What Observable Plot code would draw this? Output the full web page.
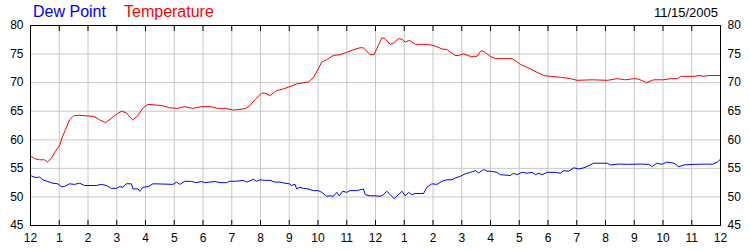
<!DOCTYPE html>
<html>
<head>
<meta charset="utf-8">
<script src="https://cdn.jsdelivr.net/npm/d3@7"></script>
<script src="https://cdn.jsdelivr.net/npm/@observablehq/plot@0.6"></script>
<style>
  html, body { margin: 0; padding: 0; background: #fff; }
  #wrap { position: relative; width: 750px; height: 250px; font-family: "Liberation Sans", Arial, sans-serif; }
  #wrap svg { position: absolute; left: 0; top: 0; }
  .lab { position: absolute; line-height: 1; white-space: nowrap; }
</style>
</head>
<body>
<div id="wrap"></div>
<script>
// Hours after midnight and readings (°F)
const tempHours = [0.00,0.14,0.31,0.49,0.59,0.73,0.87,1.01,1.11,1.22,1.36,1.50,1.71,1.92,2.20,2.40,2.61,2.82,3.03,3.17,3.34,3.45,3.55,3.73,3.90,4.08,4.32,4.56,4.84,5.12,5.37,5.64,5.96,6.24,6.52,6.79,7.04,7.28,7.49,7.63,7.84,8.04,8.15,8.33,8.56,8.79,9.02,9.26,9.66,9.84,10.01,10.13,10.30,10.53,10.77,11.00,11.23,11.46,11.58,11.81,11.95,12.22,12.33,12.51,12.62,12.80,12.92,13.03,13.18,13.38,13.84,14.08,14.31,14.48,14.77,14.89,15.06,15.30,15.53,15.67,15.82,15.99,16.17,16.75,17.04,17.39,17.62,17.85,18.08,18.43,18.78,19.01,19.54,20.06,20.41,20.70,20.99,21.16,21.43,21.68,22.03,22.26,22.50,22.61,23.08,23.25,23.43,23.60,24.00];
const tempValues = [57.2,56.7,56.5,56.5,56.1,56.8,58.0,59.0,60.5,61.8,63.5,64.2,64.3,64.2,64.1,63.5,63.0,63.8,64.6,65.0,64.7,64.0,63.5,64.2,65.5,66.2,66.1,66.0,65.6,65.5,65.8,65.5,65.8,65.8,65.5,65.5,65.2,65.3,65.5,66.0,67.2,68.15,68.15,67.75,68.6,68.9,69.3,69.8,70.1,70.85,72.4,73.6,74.0,74.75,74.9,75.3,75.75,76.1,76.1,74.9,74.9,77.85,77.7,76.7,76.9,77.7,77.6,77.1,77.4,76.7,76.7,76.4,75.9,75.8,74.75,74.75,75.05,74.6,74.6,75.6,75.3,74.6,74.2,74.2,73.2,72.4,71.8,71.25,71.1,70.95,70.7,70.4,70.5,70.4,70.7,70.5,70.7,70.6,70.0,70.5,70.5,70.7,70.7,71.1,71.1,71.25,71.1,71.25,71.25];

const dewHours = [0.00,0.14,0.25,0.31,0.43,0.60,0.78,0.95,1.07,1.18,1.36,1.53,1.71,1.88,2.29,2.46,2.64,2.81,2.99,3.10,3.22,3.33,3.51,3.56,3.74,3.80,3.91,4.09,4.26,4.96,5.08,5.19,5.37,5.60,5.77,5.95,6.06,6.24,6.41,6.59,6.82,6.93,7.17,7.40,7.52,7.63,7.75,7.86,7.98,8.15,8.33,8.50,8.68,8.85,9.00,9.08,9.20,9.26,9.37,9.49,9.66,9.84,10.01,10.13,10.30,10.42,10.53,10.65,10.74,10.86,11.00,11.11,11.35,11.58,11.64,11.81,11.99,12.16,12.28,12.39,12.51,12.65,12.80,12.92,13.03,13.15,13.26,13.38,13.67,13.79,13.96,14.14,14.31,14.48,14.66,14.77,14.95,15.12,15.30,15.47,15.59,15.76,15.88,15.99,16.23,16.34,16.69,16.80,16.92,17.10,17.27,17.45,17.56,17.68,17.79,17.97,18.26,18.43,18.55,18.72,18.90,19.07,19.25,19.42,19.59,20.06,20.17,20.46,20.76,21.22,21.51,21.63,21.78,21.97,22.13,22.38,22.55,22.73,23.08,23.54,23.71,23.89,24.00];
const dewValues = [53.75,53.45,53.4,53.5,53.0,52.7,52.4,52.3,51.8,51.8,52.3,52.2,52.4,52.0,52.0,52.2,52.0,51.5,51.5,51.8,51.7,52.3,52.3,51.4,51.4,51.0,51.7,51.8,52.3,52.2,52.6,52.2,52.75,52.7,52.5,52.7,52.5,52.6,52.7,52.5,52.5,52.75,52.75,52.9,52.6,52.8,53.1,52.75,53.0,52.9,52.9,52.6,52.6,52.4,52.3,52.0,52.2,51.4,51.7,51.5,51.4,51.1,51.1,50.8,50.1,50.2,50.1,50.8,50.2,51.0,50.8,51.1,51.1,51.4,50.4,50.2,50.2,50.1,50.4,51.0,50.4,49.7,50.4,51.0,50.2,50.8,50.4,50.6,50.6,51.7,52.3,52.2,52.75,53.0,53.0,53.3,53.6,54.05,54.3,54.6,54.2,54.8,54.5,54.5,54.3,53.9,53.75,54.15,53.9,54.3,54.15,54.3,53.9,54.15,53.9,54.3,54.3,54.15,54.6,54.5,55.1,54.9,55.1,55.5,55.9,55.9,55.6,55.75,55.7,55.75,55.7,55.3,55.9,55.7,56.1,55.9,55.3,55.6,55.7,55.75,55.7,56.1,56.6];

const hourTicks = d3.range(0, 25);
const hourLabels = ["12","1","2","3","4","5","6","7","8","9","10","11","12","1","2","3","4","5","6","7","8","9","10","11","12"];
const yTicks = [45,50,55,60,65,70,75,80];
const gridYTicks = [50,55,60,65,70,75];
const seriesNames = ["Dew Point", "Temperature"];
const dateLabel = "11/15/2005";

const temp = tempHours.map((h, i) => ({h, v: tempValues[i]}));
const dew = dewHours.map((h, i) => ({h, v: dewValues[i]}));
const fmt = (d) => hourLabels[d];

const chart = Plot.plot({
  width: 750,
  height: 250,
  marginLeft: 30,
  marginRight: 30,
  marginTop: 25,
  marginBottom: 25,
  style: {fontFamily: "'Liberation Sans', Arial, sans-serif", fontSize: "12px", color: "#000", background: "transparent", overflow: "visible"},
  x: {domain: [0, 24]},
  y: {domain: [45, 80]},
  marks: [
    Plot.gridX(hourTicks.slice(1, -1), {stroke: "#c8c8c8", strokeOpacity: 1}),
    Plot.gridY(gridYTicks, {stroke: "#c8c8c8", strokeOpacity: 1}),
    Plot.line(dew, {x: "h", y: "v", stroke: "#0000ff", strokeWidth: 1}),
    Plot.line(temp, {x: "h", y: "v", stroke: "#ff0000", strokeWidth: 1}),
    Plot.frame({stroke: "#000", strokeOpacity: 1}),
    Plot.axisX(hourTicks, {anchor: "top", tickSize: -5, tickFormat: () => "", label: null, stroke: "#000"}),
    Plot.axisX(hourTicks, {anchor: "bottom", tickSize: -5, tickFormat: () => "", label: null, stroke: "#000"}),
    Plot.axisX(hourTicks, {anchor: "bottom", tickSize: 0, tickPadding: 8, tickFormat: fmt, label: null, fill: "#000"}),
    Plot.axisY(yTicks, {anchor: "left", tickSize: 0, tickPadding: 7, label: null, fill: "#000"}),
    Plot.axisY(yTicks, {anchor: "right", tickSize: 0, tickPadding: 7, label: null, fill: "#000"})
  ]
});

const wrap = document.getElementById("wrap");
wrap.appendChild(chart);

function addLabel(text, css) {
  const s = document.createElement("span");
  s.className = "lab";
  s.textContent = text;
  Object.assign(s.style, css);
  wrap.appendChild(s);
}
addLabel(seriesNames[0], {left: "33px", top: "4px", fontSize: "16px", color: "#0000ff"});
addLabel(seriesNames[1], {left: "124px", top: "4px", fontSize: "16px", color: "#ff0000"});
addLabel(dateLabel, {right: "32px", top: "6px", fontSize: "13px", color: "#000"});
</script>
</body>
</html>
